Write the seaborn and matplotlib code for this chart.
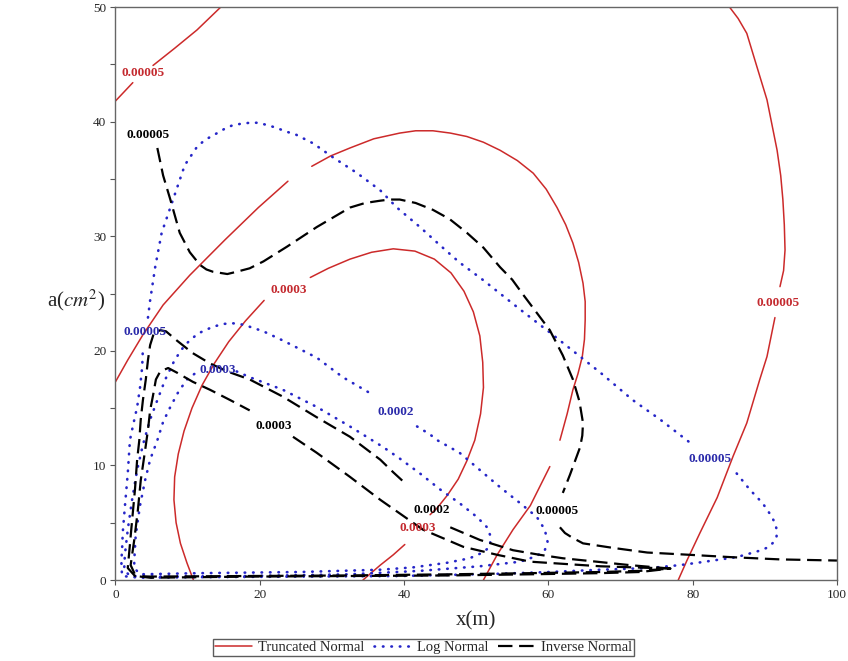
import numpy as np
import pandas as pd
import matplotlib
matplotlib.use("Agg")
import matplotlib.pyplot as plt
import seaborn as sns
from matplotlib.lines import Line2D

# ---------------- data ----------------
x_ticks = [0, 20, 40, 60, 80, 100]
x_tick_labels = ["0", "20", "40", "60", "80", "100"]
y_ticks = [0, 5, 10, 15, 20, 25, 30, 35, 40, 45, 50]
y_tick_labels = ["0", "", "10", "", "20", "", "30", "", "40", "", "50"]
series_names = ["Truncated Normal", "Log Normal", "Inverse Normal"]

# Truncated Normal, level 0.00005 (top-left piece)
tn1_s1_x = [0.0, 1.2, 2.4]
tn1_s1_y = [41.8, 42.6, 43.4]
tn1_s2_x = [5.2, 8.2, 11.3, 14.6]
tn1_s2_y = [44.9, 46.4, 48.0, 50.0]
# Truncated Normal, level 0.00005 (right arc)
tn2_s1_x = [85.1, 86.3, 87.5, 88.8, 90.3, 91.0, 91.7, 92.2, 92.5, 92.7, 92.8, 92.6, 92.1]
tn2_s1_y = [50.0, 49.0, 47.7, 45.0, 41.9, 39.7, 37.5, 35.3, 33.2, 31.0, 28.8, 27.0, 25.6]
tn2_s2_x = [91.4, 90.3, 89.3, 87.5, 85.6, 83.4, 81.0, 79.2, 78.0]
tn2_s2_y = [22.9, 19.5, 17.5, 13.7, 10.8, 7.2, 4.1, 1.7, 0.0]
# Truncated Normal, middle loop
tn3_s1_x = [0.0, 1.7, 3.8, 6.6, 10.3, 15.2, 19.8, 23.9]
tn3_s1_y = [17.3, 19.2, 21.4, 24.0, 26.6, 29.7, 32.5, 34.8]
tn3_s2_x = [27.2, 29.8, 32.5, 35.8, 39.4, 41.6, 44.0, 46.4, 48.7, 51.0, 53.3, 55.7, 57.9, 59.7,
            61.2, 62.4, 63.4, 64.2, 64.8, 65.1, 65.1, 65.0, 64.7, 64.1, 63.4, 62.6, 61.6]
tn3_s2_y = [36.1, 37.0, 37.7, 38.5, 39.0, 39.2, 39.2, 39.0, 38.7, 38.2, 37.5, 36.6, 35.5, 34.1,
            32.5, 31.0, 29.4, 27.7, 25.9, 24.3, 22.7, 21.0, 19.5, 18.0, 16.6, 14.5, 12.2]
tn3_s3_x = [60.2, 57.5, 55.1, 52.9, 51.0]
tn3_s3_y = [9.9, 6.5, 4.4, 2.2, 0.0]
# Truncated Normal, level 0.0003
tn4_s1_x = [10.8, 9.9, 9.0, 8.4, 8.1, 8.2, 8.7, 9.5, 10.6, 12.0, 13.7, 15.7, 18.0, 20.6]
tn4_s1_y = [0.0, 1.5, 3.2, 5.0, 7.0, 9.0, 11.0, 13.0, 15.0, 17.0, 18.9, 20.8, 22.6, 24.4]
tn4_s2_x = [27.0, 29.5, 32.5, 35.5, 38.5, 41.5, 44.2, 46.5, 48.3, 49.6, 50.5, 50.9, 51.0, 50.6,
            49.8, 48.7, 47.5, 46.0, 44.6, 43.6]
tn4_s2_y = [26.4, 27.2, 28.0, 28.6, 28.9, 28.7, 28.0, 26.8, 25.2, 23.4, 21.3, 19.0, 16.8, 14.5,
            12.2, 10.4, 8.8, 7.4, 6.3, 5.7]
tn4_s3_x = [40.1, 38.5, 36.7, 34.3]
tn4_s3_y = [3.1, 2.2, 1.3, 0.0]
tn_label_x = [3.8, 91.8, 24.0, 41.9]
tn_label_y = [44.2, 24.2, 25.3, 4.5]
tn_label_text = ["0.00005", "0.00005", "0.0003", "0.0003"]

# Log Normal, level 0.00005
ln1_s1_x = [4.5, 4.8, 5.5, 6.4, 7.6, 8.9, 9.6, 11.3, 12.4, 14.1, 15.2, 16.3, 17.3, 18.6, 19.8,
            21.0, 22.1, 23.8, 24.9, 27.4, 30.1, 33.5, 36.7, 39.0, 42.2, 45.0, 47.7, 50.9, 56.1,
            60.2, 64.4, 67.2, 71.7, 75.5, 79.6]
ln1_s1_y = [22.9, 24.4, 27.3, 30.3, 32.5, 34.9, 36.2, 37.8, 38.4, 39.0, 39.4, 39.7, 39.8, 39.9, 39.9,
            39.7, 39.5, 39.1, 38.9, 38.1, 36.9, 35.5, 34.0, 32.5, 30.8, 29.2, 27.7, 26.2, 23.6,
            21.6, 19.5, 18.1, 15.7, 14.0, 12.0]
ln1_s2_x = [86.1, 87.9, 89.7, 91.0, 91.5, 91.7, 91.6, 91.2, 90.6, 89.5, 88.4, 86.1, 82.8, 80.6,
            78.2, 74.1, 67.2, 60.2, 53.3, 46.4, 39.4, 25.6, 11.7, 3.4, 0.9, 0.8, 0.9, 1.0, 1.3,
            1.7, 2.0, 2.4, 3.0, 3.4, 3.7, 3.8]
ln1_s2_y = [9.3, 7.9, 6.7, 5.5, 4.8, 4.2, 3.7, 3.3, 2.9, 2.6, 2.4, 2.0, 1.7, 1.5,
            1.3, 1.05, 0.9, 0.7, 0.55, 0.45, 0.35, 0.3, 0.25, 0.2, 0.35, 1.8, 2.4, 4.1, 6.4,
            9.3, 12.2, 13.4, 15.1, 16.8, 18.6, 20.3]
# Log Normal, level 0.0002
ln2_x = [41.8, 43.6, 44.6, 47.7, 50.5, 53.3, 56.1, 58.4, 59.5, 59.9, 59.5, 58.4, 56.1, 50.5, 42.2,
         32.5, 18.6, 6.2, 2.0, 1.2, 1.3, 1.7, 2.3, 3.0, 3.8, 4.8, 5.8, 6.9, 8.2, 9.6, 11.4, 13.5,
         15.0, 16.3, 17.5, 18.6, 20.5, 23.2, 27.9, 31.5, 35.3]
ln2_y = [13.4, 12.7, 12.2, 11.1, 9.6, 8.1, 6.7, 5.5, 4.4, 3.3, 2.6, 2.1, 1.6, 1.2, 0.8,
         0.5, 0.35, 0.3, 0.35, 0.9, 2.2, 4.4, 7.0, 9.6, 11.8, 14.0, 15.7, 17.5, 19.2, 20.5, 21.5, 22.1,
         22.35, 22.4, 22.3, 22.1, 21.7, 20.9, 19.4, 17.7, 16.3]
# Log Normal, level 0.0003
ln3_x = [16.8, 18.6, 23.2, 27.9, 32.5, 37.1, 39.4, 42.2, 45.0, 47.7, 50.1, 51.5, 52.0, 51.9, 50.9,
         49.1, 45.9, 41.2, 36.7, 25.6, 11.7, 3.4, 2.6, 2.6, 2.8, 3.4, 4.1, 4.8, 5.8, 6.6, 7.6, 8.7, 9.9, 11.4]
ln3_y = [18.2, 17.7, 16.6, 15.1, 13.4, 11.6, 10.6, 9.3, 7.9, 6.7, 5.5, 4.6, 3.8, 2.9, 2.4,
         1.9, 1.5, 1.1, 0.9, 0.7, 0.6, 0.5, 1.05, 1.7, 3.9, 6.5, 8.7, 10.5, 12.2, 13.8, 15.1, 16.4, 17.5, 18.2]
ln_label_x = [4.1, 82.4, 38.9, 14.2]
ln_label_y = [21.6, 10.6, 14.7, 18.3]
ln_label_text = ["0.00005", "0.00005", "0.0002", "0.0003"]

# Inverse Normal, level 0.00005
in1_s1_x = [5.8, 6.6, 7.6, 8.9, 10.3, 11.7, 12.6, 13.5, 14.5, 15.5, 16.8, 18.6, 20.5, 23.8, 27.9,
            32.5, 34.6, 36.7, 38.0, 39.4, 41.6, 44.0, 46.3, 48.7, 51.0, 53.3, 55.0, 56.5, 60.2,
            62.0, 63.4, 64.3, 64.8, 64.7, 64.4, 63.0, 62.0]
in1_s1_y = [37.7, 35.3, 33.2, 30.3, 28.6, 27.5, 27.1, 26.9, 26.8, 26.7, 26.9, 27.2, 27.8, 29.1, 30.8,
            32.5, 32.9, 33.1, 33.2, 33.2, 32.9, 32.3, 31.5, 30.3, 29.0, 27.3, 26.2, 24.9, 21.8,
            19.6, 17.5, 15.6, 13.7, 12.6, 11.6, 9.2, 7.6]
in1_s2_x = [61.6, 62.3, 63.3, 64.8, 69.0, 73.7, 79.6, 85.2, 92.1, 100.0]
in1_s2_y = [4.6, 4.1, 3.7, 3.2, 2.8, 2.4, 2.2, 2.0, 1.8, 1.7]
# Inverse Normal, level 0.0002
in2_x = [46.4, 50.5, 55.1, 58.8, 62.0, 66.7, 71.3, 76.9, 72.7, 67.2, 57.5, 46.4, 32.5, 18.6, 4.8,
         2.7, 1.7, 2.0, 2.3, 2.7, 3.0, 3.3, 3.5, 3.8, 4.2, 4.5, 4.8, 5.3, 6.2, 7.0, 8.5, 10.7,
         13.1, 15.5, 18.6, 23.2, 27.9, 32.5, 36.7, 38.5, 40.4]
in2_y = [4.6, 3.5, 2.6, 2.2, 1.9, 1.6, 1.3, 1.0, 0.8, 0.7, 0.6, 0.5, 0.4, 0.35, 0.3,
         0.35, 1.05, 3.1, 5.2, 7.9, 10.5, 12.2, 14.0, 15.7, 17.5, 19.2, 20.5, 21.5, 21.8, 21.7, 20.9, 19.8,
         18.9, 18.2, 17.5, 16.0, 14.2, 12.5, 10.5, 9.4, 8.3]
# Inverse Normal, level 0.0003
in3_x = [24.6, 27.9, 32.5, 36.7, 42.6, 48.2, 52.9, 57.5, 67.2, 76.9, 72.7, 67.2, 57.5, 46.4, 32.5,
         18.6, 4.8, 2.8, 2.1, 2.6, 3.1, 3.5, 4.1, 4.5, 4.8, 5.2, 5.6, 6.2, 7.3, 8.5, 10.7, 13.1, 15.9, 18.6]
in3_y = [12.5, 11.1, 9.0, 7.0, 4.4, 2.9, 2.2, 1.6, 1.2, 1.0, 0.7, 0.6, 0.5, 0.4, 0.35,
         0.3, 0.2, 0.35, 1.3, 3.5, 6.1, 8.7, 11.3, 13.1, 14.8, 16.1, 17.5, 18.2, 18.5, 18.1, 17.3, 16.6, 15.7, 14.8]
in_label_x = [4.5, 61.2, 43.9, 22.0]
in_label_y = [38.8, 6.0, 6.1, 13.4]
in_label_text = ["0.00005", "0.00005", "0.0002", "0.0003"]

# ---------------- styling ----------------
sns.set_theme(style="white")
plt.rcParams['font.family'] = ['Liberation Serif', 'DejaVu Serif']
plt.rcParams['mathtext.fontset'] = 'stix'

RED, BLUE, BLACK = "#cc2a2a", "#2626c8", "#000000"
RED_T, BLUE_T = "#c42a2f", "#2a2aaa"
styles = {
    "Truncated Normal": dict(color=RED, linewidth=1.1, linestyle="-"),
    "Log Normal": dict(color=BLUE, linewidth=1.9, linestyle=(0, (0.2, 3.0)),
                       dash_capstyle="round"),
    "Inverse Normal": dict(color=BLACK, linewidth=1.6, linestyle=(0, (6.5, 3.0))),
}

fig = plt.figure(figsize=(8.48, 6.61), dpi=100)
ax = fig.add_axes([0.1362, 0.1225, 0.8508, 0.8669])

segments = {
    "Truncated Normal": [(tn1_s1_x, tn1_s1_y), (tn1_s2_x, tn1_s2_y), (tn2_s1_x, tn2_s1_y),
                         (tn2_s2_x, tn2_s2_y), (tn3_s1_x, tn3_s1_y), (tn3_s2_x, tn3_s2_y),
                         (tn3_s3_x, tn3_s3_y), (tn4_s1_x, tn4_s1_y), (tn4_s2_x, tn4_s2_y),
                         (tn4_s3_x, tn4_s3_y)],
    "Log Normal": [(ln1_s1_x, ln1_s1_y), (ln1_s2_x, ln1_s2_y), (ln2_x, ln2_y), (ln3_x, ln3_y)],
    "Inverse Normal": [(in1_s1_x, in1_s1_y), (in1_s2_x, in1_s2_y), (in2_x, in2_y), (in3_x, in3_y)],
}

for name in series_names:
    for xs, ys in segments[name]:
        df = pd.DataFrame({"x": xs, "y": ys})
        sns.lineplot(data=df, x="x", y="y", sort=False, estimator=None, ax=ax,
                     solid_joinstyle="round", **styles[name])

label_sets = [
    (tn_label_x, tn_label_y, tn_label_text, RED_T),
    (ln_label_x, ln_label_y, ln_label_text, BLUE_T),
    (in_label_x, in_label_y, in_label_text, BLACK),
]
for lx, ly, lt, col in label_sets:
    for xx, yy, tt in zip(lx, ly, lt):
        ax.text(xx, yy, tt, ha="center", va="center", fontsize=9.5,
                fontweight="bold", color=col)

ax.set_xlim(0, 100)
ax.set_ylim(0, 50)
ax.set_xticks(x_ticks)
ax.set_xticklabels(x_tick_labels)
ax.set_yticks(y_ticks)
ax.set_yticklabels(y_tick_labels)
ax.tick_params(axis="both", direction="out", length=3.5, width=0.8, color="#555555",
               labelsize=9.5, pad=3, bottom=True, left=True)
for sp in ax.spines.values():
    sp.set_color("#666666")
    sp.set_linewidth(1.0)
ax.set_xlabel("x(m)", fontsize=15, labelpad=7)
ax.set_ylabel("")
fig.text(0.090, 0.546, r"a($cm^2$)", fontsize=15, ha="center", va="center")

handles = [Line2D([0], [0], **styles[n]) for n in series_names]
leg = fig.legend(handles, series_names, loc="center", bbox_to_anchor=(0.4994, 0.0204),
                 ncol=3, fontsize=10.5, frameon=True, fancybox=False, edgecolor="#333333",
                 handlelength=2.5, handletextpad=0.4, columnspacing=0.7, borderpad=0.15,
                 borderaxespad=0)
leg.get_frame().set_linewidth(1.0)

fig.savefig("out.png", dpi=100)
